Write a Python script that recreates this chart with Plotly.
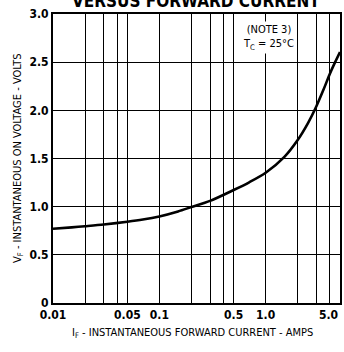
import plotly.graph_objects as go
import math

# Data
current_amps = [0.01, 0.015, 0.02, 0.03, 0.05, 0.07, 0.1, 0.15, 0.2, 0.3, 0.5, 0.7,
                1.0, 1.5, 2.0, 2.5, 3.0, 3.5, 4.0, 4.5, 5.0]
voltage_v = [0.770, 0.785, 0.797, 0.815, 0.843, 0.866, 0.899, 0.951, 0.996, 1.060, 1.173, 1.253,
             1.352, 1.517, 1.692, 1.868, 2.043, 2.215, 2.375, 2.500, 2.605]

x_grid_vals = [0.01, 0.02, 0.03, 0.04, 0.05, 0.1, 0.2, 0.3, 0.4, 0.5, 1.0, 2.0, 3.0, 4.0, 5.0]
x_grid_text = ["0.01", "", "", "", "0.05", "0.1", "", "", "", "0.5", "1.0", "", "", "", ""]
y_tick_vals = [0, 0.5, 1.0, 1.5, 2.0, 2.5, 3.0]
y_tick_text = ["0", "0.5", "1.0", "1.5", "2.0", "2.5", "3.0"]

FONT = "DejaVu Sans Condensed, Liberation Sans Narrow, Liberation Sans, sans-serif"

L, R, T, B = 53, 4, 14, 49
W, H = 344, 352
plot_w = W - L - R
plot_h = H - T - B


def px_x(px):
    return (px - L) / plot_w


def px_y(py):
    return (H - B - py) / plot_h


fig = go.Figure()
fig.add_trace(go.Scatter(
    x=current_amps, y=voltage_v, mode="lines",
    line=dict(color="black", width=2.6, shape="spline", smoothing=0.8),
    showlegend=False, hoverinfo="skip"))

tickfont = dict(family=FONT, size=12, color="black", weight="bold")

fig.update_layout(
    width=W, height=H,
    margin=dict(l=L, r=R, t=T, b=B),
    paper_bgcolor="white", plot_bgcolor="white",
    font=dict(family=FONT, color="black", size=12),
    xaxis=dict(
        type="log", range=[-2, math.log10(5)],
        tickmode="array", tickvals=x_grid_vals, ticktext=x_grid_text,
        showgrid=True, gridcolor="black", gridwidth=1,
        showline=True, linecolor="black", linewidth=2, mirror=True,
        ticks="", zeroline=False, tickfont=tickfont, automargin=False,
    ),
    yaxis=dict(
        range=[0, 3.0],
        tickmode="array", tickvals=y_tick_vals, ticktext=y_tick_text,
        showgrid=True, gridcolor="black", gridwidth=1,
        showline=True, linecolor="black", linewidth=2, mirror=True,
        ticks="", zeroline=False, tickfont=tickfont, automargin=False,
    ),
    annotations=[
        dict(text="5.0", x=1.0, y=0, xref="paper", yref="paper",
             xanchor="right", yanchor="top", yshift=-3, showarrow=False,
             font=tickfont),
        dict(text="(NOTE 3)<br>T<sub>C</sub> = 25°C", x=px_x(268), y=px_y(37),
             xref="paper", yref="paper", xanchor="center", yanchor="middle",
             showarrow=False, bgcolor="white", align="center",
             font=dict(family=FONT, size=11)),
        dict(text="V<sub>F</sub> - INSTANTANEOUS ON VOLTAGE - VOLTS",
             x=px_x(18), y=px_y(158), xref="paper", yref="paper",
             xanchor="center", yanchor="middle", showarrow=False,
             textangle=-90, font=dict(family=FONT, size=11)),
        dict(text="I<sub>F</sub> - INSTANTANEOUS FORWARD CURRENT - AMPS",
             x=px_x(192), y=px_y(333), xref="paper", yref="paper",
             xanchor="center", yanchor="middle", showarrow=False,
             font=dict(family=FONT, size=11)),
        dict(text="<b>VERSUS FORWARD CURRENT</b>", x=px_x(196), y=px_y(1),
             xref="paper", yref="paper", xanchor="center", yanchor="middle",
             showarrow=False, font=dict(family=FONT, size=17)),
    ],
)

fig.write_html("out.html")
